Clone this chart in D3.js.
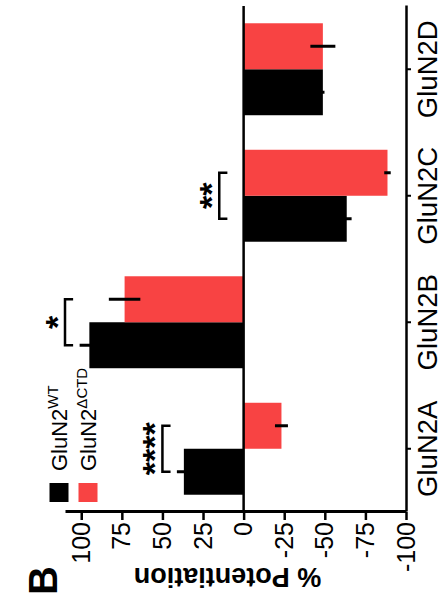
<!DOCTYPE html>
<html>
<head>
<meta charset="utf-8">
<script src="https://cdn.jsdelivr.net/npm/d3@7.9.0/dist/d3.min.js"></script>
<style>
  html, body { margin: 0; padding: 0; background: #fff; }
  svg { display: block; font-family: "Liberation Sans", Arial, sans-serif; }
</style>
</head>
<body>
<svg id="chart" width="443" height="613"></svg>
<script>
// data
const categories = ['GluN2A', 'GluN2B', 'GluN2C', 'GluN2D'];
const groups = ['WT', 'ΔCTD'];
const wtValues = [36.8, 95, -63.5, -48.8];
const wtErrors = [4.3, 6, 3, 1];
const ctdValues = [-23.3, 73.3, -88.6, -48.8];
const ctdErrors = [4, 9.7, 2, 7.7];
const sigLabels = ['****', '*', '**', ''];
const sigLevels = [50, 110, 15, null];
const yTicks = [-100, -75, -50, -25, 0, 25, 50, 75, 100];

const colors = { 'WT': '#000000', 'ΔCTD': '#f84343' };

// the figure is drawn upright in a 613x443 frame, then turned a quarter left
const W = 613, H = 443;
const svg = d3.select('#chart');
const g = svg.append('g').attr('transform', `translate(0,${W}) rotate(-90)`);

const x = d3.scaleBand()
  .domain(categories)
  .range([101, 607])
  .paddingInner(0.273)
  .paddingOuter(0.1365);

const xSub = d3.scaleBand()
  .domain(groups)
  .range([0, x.bandwidth()]);

const y = d3.scaleLinear()
  .domain([-100, 110])
  .range([406, 65]);

const rows = categories.map((c, i) => [
  { cat: c, grp: 'WT', value: wtValues[i], err: wtErrors[i] },
  { cat: c, grp: 'ΔCTD', value: ctdValues[i], err: ctdErrors[i] }
]).flat();

// bars
g.selectAll('rect.bar')
  .data(rows)
  .join('rect')
  .attr('class', 'bar')
  .attr('x', d => x(d.cat) + xSub(d.grp))
  .attr('width', xSub.bandwidth())
  .attr('y', d => Math.min(y(d.value), y(0)))
  .attr('height', d => Math.abs(y(d.value) - y(0)))
  .attr('fill', d => colors[d.grp]);

// error bars
g.selectAll('line.err')
  .data(rows)
  .join('line')
  .attr('class', 'err')
  .attr('x1', d => x(d.cat) + xSub(d.grp) + xSub.bandwidth() / 2)
  .attr('x2', d => x(d.cat) + xSub(d.grp) + xSub.bandwidth() / 2)
  .attr('y1', d => y(d.value - d.err))
  .attr('y2', d => y(d.value + d.err))
  .attr('stroke', '#000')
  .attr('stroke-width', 3);

// zero line
g.append('line')
  .attr('x1', x.range()[0]).attr('x2', x.range()[1])
  .attr('y1', y(0)).attr('y2', y(0))
  .attr('stroke', '#000').attr('stroke-width', 2.5);

// value axis
const yAxis = g.append('g')
  .attr('transform', `translate(${x.range()[0]},0)`)
  .call(d3.axisLeft(y).tickValues(yTicks).tickFormat(d => String(d))
    .tickSize(8).tickSizeOuter(0).tickPadding(2));
yAxis.attr('font-family', null).attr('font-size', null);
yAxis.select('.domain').attr('stroke-width', 3);
yAxis.selectAll('.tick line').attr('stroke-width', 2.5);
yAxis.selectAll('.tick text').style('font-size', '25px').attr('fill', '#000');

// category axis along the bottom
const xAxis = g.append('g')
  .attr('transform', `translate(0,${y(-100)})`)
  .call(d3.axisBottom(x).tickSize(5).tickSizeOuter(0).tickPadding(6));
xAxis.attr('font-family', null).attr('font-size', null);
xAxis.select('.domain').attr('stroke-width', 2.5);
xAxis.selectAll('.tick line').attr('stroke-width', 2);
xAxis.selectAll('.tick text').style('font-size', '27.5px').attr('fill', '#000');

// axis title
g.append('text')
  .attr('transform', `translate(45,${(y(-100) + y(110)) / 2 - 8}) rotate(-90)`)
  .attr('text-anchor', 'middle')
  .style('font-size', '27px')
  .style('font-weight', 'bold')
  .text('% Potentiation');

// panel letter
g.append('text')
  .attr('x', 18).attr('y', 57)
  .style('font-size', '40px')
  .style('font-weight', 'bold')
  .text('B');

// significance brackets
const arm = 5;
categories.forEach((c, i) => {
  if (sigLevels[i] === null) return;
  const xa = x(c) + xSub('WT') + xSub.bandwidth() / 2;
  const xb = x(c) + xSub('ΔCTD') + xSub.bandwidth() / 2;
  const yl = y(sigLevels[i]);
  const ya = y(sigLevels[i] - arm);
  g.append('path')
    .attr('d', `M${xa},${ya}V${yl}H${xb}V${ya}`)
    .attr('fill', 'none')
    .attr('stroke', '#000')
    .attr('stroke-width', 2.5);
  g.append('text')
    .attr('x', (xa + xb) / 2)
    .attr('y', yl + 4)
    .attr('text-anchor', 'middle')
    .style('font-size', '34px')
    .style('font-weight', 'bold')
    .text(sigLabels[i]);
});

// legend
const legend = g.append('g');
groups.forEach((grp, i) => {
  const cy = 59 + i * 29;
  legend.append('rect')
    .attr('x', 111).attr('y', cy - 9.5)
    .attr('width', 19).attr('height', 19)
    .attr('fill', colors[grp]);
  const t = legend.append('text')
    .attr('x', 142).attr('y', cy + 8)
    .style('font-size', '22px');
  t.append('tspan').text('GluN2');
  t.append('tspan')
    .attr('dy', -9)
    .style('font-size', '15px')
    .text(grp);
});
</script>
</body>
</html>
